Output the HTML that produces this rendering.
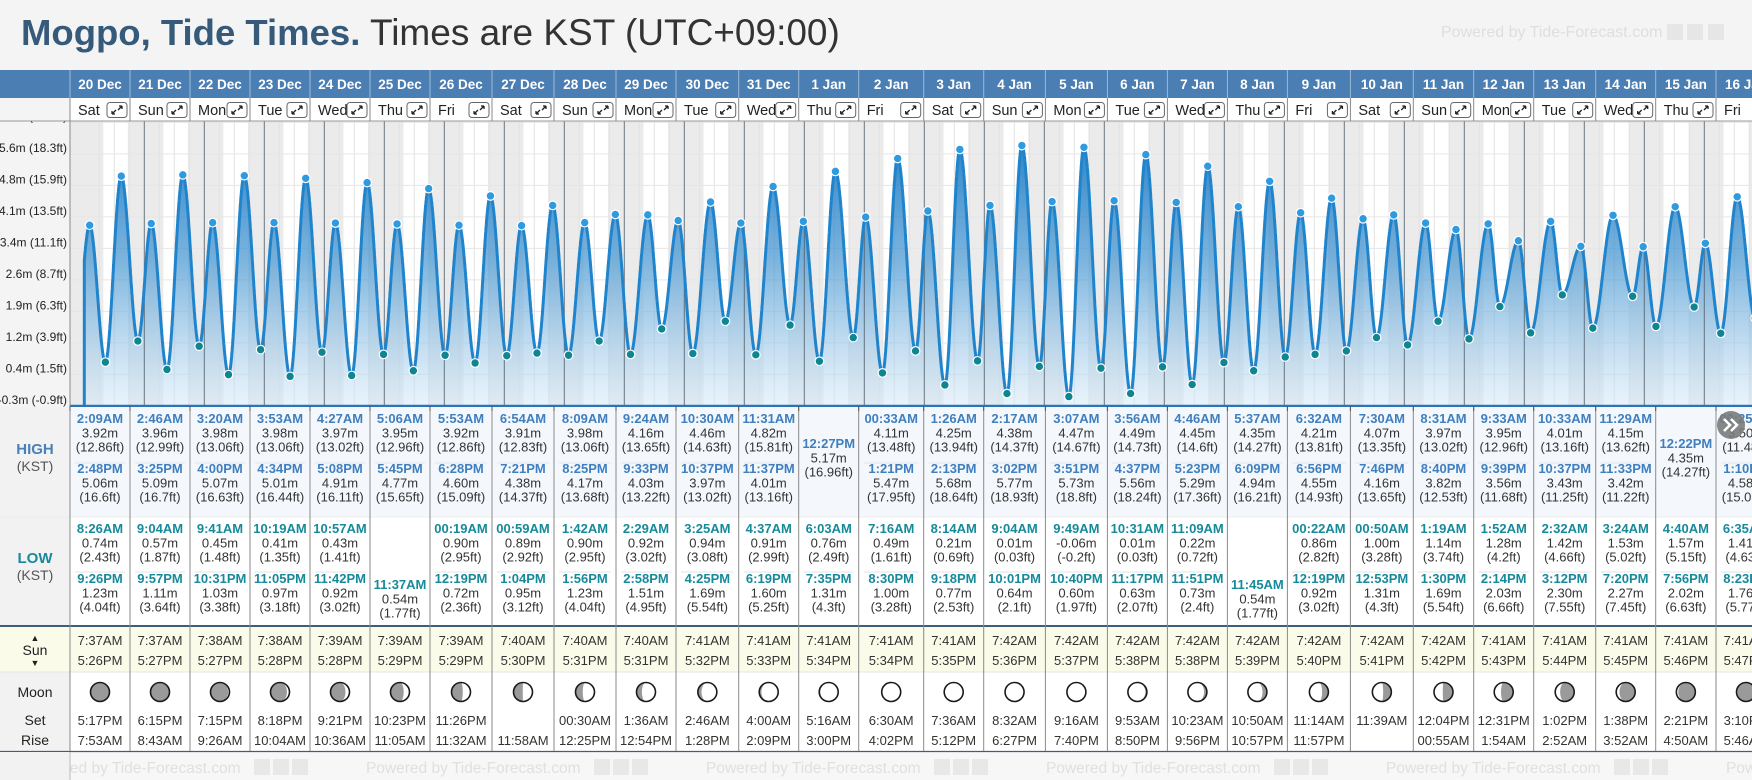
<!DOCTYPE html>
<html><head><meta charset="utf-8"><title>Mogpo Tide Times</title>
<style>
html,body{margin:0;padding:0;width:1752px;height:780px;overflow:hidden;background:#f4f4f4;font-family:"Liberation Sans",sans-serif;}
#title{position:absolute;left:21px;top:12px;font-size:37px;white-space:nowrap;color:#333;}
#title b{color:#355a7a;font-size:36.5px;}
#wm{position:absolute;left:1441px;top:24px;font-size:16px;color:#dedede;white-space:nowrap;}
svg{position:absolute;left:0;top:0;}
</style></head><body>
<div id="title"><b>Mogpo, Tide Times.</b> <span>Times are KST (UTC+09:00)</span></div>
<div id="wm">Powered by Tide-Forecast.com <span style="display:inline-block;width:16px;height:16px;background:#e6e6e6;vertical-align:-3px"></span> <span style="display:inline-block;width:16px;height:16px;background:#e6e6e6;vertical-align:-3px"></span> <span style="display:inline-block;width:16px;height:16px;background:#e6e6e6;vertical-align:-3px"></span></div>
<svg id="svg" width="1752" height="780" viewBox="0 0 1752 780"></svg>
<script>
const dates=['20 Dec','21 Dec','22 Dec','23 Dec','24 Dec','25 Dec','26 Dec','27 Dec','28 Dec','29 Dec','30 Dec','31 Dec','1 Jan','2 Jan','3 Jan','4 Jan','5 Jan','6 Jan','7 Jan','8 Jan','9 Jan','10 Jan','11 Jan','12 Jan','13 Jan','14 Jan','15 Jan','16 Jan'];
const weekdays=['Sat','Sun','Mon','Tue','Wed','Thu','Fri','Sat','Sun','Mon','Tue','Wed','Thu','Fri','Sat','Sun','Mon','Tue','Wed','Thu','Fri','Sat','Sun','Mon','Tue','Wed','Thu','Fri'];
const highTimes=[['2:09AM','2:48PM'],['2:46AM','3:25PM'],['3:20AM','4:00PM'],['3:53AM','4:34PM'],['4:27AM','5:08PM'],['5:06AM','5:45PM'],['5:53AM','6:28PM'],['6:54AM','7:21PM'],['8:09AM','8:25PM'],['9:24AM','9:33PM'],['10:30AM','10:37PM'],['11:31AM','11:37PM'],['12:27PM'],['00:33AM','1:21PM'],['1:26AM','2:13PM'],['2:17AM','3:02PM'],['3:07AM','3:51PM'],['3:56AM','4:37PM'],['4:46AM','5:23PM'],['5:37AM','6:09PM'],['6:32AM','6:56PM'],['7:30AM','7:46PM'],['8:31AM','8:40PM'],['9:33AM','9:39PM'],['10:33AM','10:37PM'],['11:29AM','11:33PM'],['12:22PM'],['00:25AM','1:10PM']];
const highM=[[3.92,5.06],[3.96,5.09],[3.98,5.07],[3.98,5.01],[3.97,4.91],[3.95,4.77],[3.92,4.60],[3.91,4.38],[3.98,4.17],[4.16,4.03],[4.46,3.97],[4.82,4.01],[5.17],[4.11,5.47],[4.25,5.68],[4.38,5.77],[4.47,5.73],[4.49,5.56],[4.45,5.29],[4.35,4.94],[4.21,4.55],[4.07,4.16],[3.97,3.82],[3.95,3.56],[4.01,3.43],[4.15,3.42],[4.35],[3.50,4.58]];
const lowTimes=[['8:26AM','9:26PM'],['9:04AM','9:57PM'],['9:41AM','10:31PM'],['10:19AM','11:05PM'],['10:57AM','11:42PM'],['11:37AM'],['00:19AM','12:19PM'],['00:59AM','1:04PM'],['1:42AM','1:56PM'],['2:29AM','2:58PM'],['3:25AM','4:25PM'],['4:37AM','6:19PM'],['6:03AM','7:35PM'],['7:16AM','8:30PM'],['8:14AM','9:18PM'],['9:04AM','10:01PM'],['9:49AM','10:40PM'],['10:31AM','11:17PM'],['11:09AM','11:51PM'],['11:45AM'],['00:22AM','12:19PM'],['00:50AM','12:53PM'],['1:19AM','1:30PM'],['1:52AM','2:14PM'],['2:32AM','3:12PM'],['3:24AM','7:20PM'],['4:40AM','7:56PM'],['6:35AM','8:23PM']];
const lowM=[[0.74,1.23],[0.57,1.11],[0.45,1.03],[0.41,0.97],[0.43,0.92],[0.54],[0.90,0.72],[0.89,0.95],[0.90,1.23],[0.92,1.51],[0.94,1.69],[0.91,1.60],[0.76,1.31],[0.49,1.00],[0.21,0.77],[0.01,0.64],[-0.06,0.60],[0.01,0.63],[0.22,0.73],[0.54],[0.86,0.92],[1.00,1.31],[1.14,1.69],[1.28,2.03],[1.42,2.30],[1.53,2.27],[1.57,2.02],[1.41,1.76]];
const priorLow={t:-3.5,m:1.3};
const sunrise=['7:37AM','7:37AM','7:38AM','7:38AM','7:39AM','7:39AM','7:39AM','7:40AM','7:40AM','7:40AM','7:41AM','7:41AM','7:41AM','7:41AM','7:41AM','7:42AM','7:42AM','7:42AM','7:42AM','7:42AM','7:42AM','7:42AM','7:42AM','7:41AM','7:41AM','7:41AM','7:41AM','7:41AM'];
const sunset=['5:26PM','5:27PM','5:27PM','5:28PM','5:28PM','5:29PM','5:29PM','5:30PM','5:31PM','5:31PM','5:32PM','5:33PM','5:34PM','5:34PM','5:35PM','5:36PM','5:37PM','5:38PM','5:38PM','5:39PM','5:40PM','5:41PM','5:42PM','5:43PM','5:44PM','5:45PM','5:46PM','5:47PM'];
const moonSet=['5:17PM','6:15PM','7:15PM','8:18PM','9:21PM','10:23PM','11:26PM','','00:30AM','1:36AM','2:46AM','4:00AM','5:16AM','6:30AM','7:36AM','8:32AM','9:16AM','9:53AM','10:23AM','10:50AM','11:14AM','11:39AM','12:04PM','12:31PM','1:02PM','1:38PM','2:21PM','3:10PM'];
const moonRise=['7:53AM','8:43AM','9:26AM','10:04AM','10:36AM','11:05AM','11:32AM','11:58AM','12:25PM','12:54PM','1:28PM','2:09PM','3:00PM','4:02PM','5:12PM','6:27PM','7:40PM','8:50PM','9:56PM','10:57PM','11:57PM','','00:55AM','1:54AM','2:52AM','3:52AM','4:50AM','5:46AM'];
const moonAge=[0.5,1.5,2.5,3.5,4.5,5.5,6.5,7.5,8.5,9.5,10.5,11.5,12.5,13.5,14.5,15.5,16.5,17.5,18.5,19.5,20.5,21.5,22.5,23.5,24.5,25.5,26.5,27.5];
const tickFt=[20.7,18.3,15.9,13.5,11.1,8.7,6.3,3.9,1.5,-0.9];
const tickLabels=['6.3m (20.7ft)','5.6m (18.3ft)','4.8m (15.9ft)','4.1m (13.5ft)','3.4m (11.1ft)','2.6m (8.7ft)','1.9m (6.3ft)','1.2m (3.9ft)','0.4m (1.5ft)','-0.3m (-0.9ft)'];

const colW=[60,60,60,60,60,60,62,62,62,60,62.7,60,60,65,60,61.7,62,60,60,60,63,62.9,60.4,60,62,60,60.3,60];
const colL=[];{let x=70;for(const w of colW){colL.push(x);x+=w;}}
const NS='http://www.w3.org/2000/svg';
const svg=document.getElementById('svg');
function mk(tag,at,parent){const e=document.createElementNS(NS,tag);for(const k in at)e.setAttribute(k,at[k]);(parent||svg).appendChild(e);return e;}
function txt(s,at,parent){const e=mk('text',at,parent);e.textContent=s;return e;}
function hrs(s){const m=s.match(/(\d+):(\d+)(AM|PM)/);let h=(+m[1])%12;if(m[3]==='PM')h+=12;return h+(+m[2])/60;}
function ft(m){return parseFloat((m*3.28084).toFixed(2));}
const x0=84.3,pxH=2.5;
function xOf(t){return x0+t*pxH;}
function yOf(m){return 394-43.06*m;}
const CT=121,CB=406;

const defs=mk('defs',{});
const cp=mk('clipPath',{id:'cclip'},defs);mk('rect',{x:70,y:CT,width:1682,height:CB-CT},cp);
const lg=mk('linearGradient',{id:'fillg',x1:0,y1:140,x2:0,y2:CB,gradientUnits:'userSpaceOnUse'},defs);
mk('stop',{offset:0,'stop-color':'#1f7cc6','stop-opacity':0.95},lg);
mk('stop',{offset:0.45,'stop-color':'#4f9bd3','stop-opacity':0.75},lg);
mk('stop',{offset:1,'stop-color':'#d8eaf8','stop-opacity':0.55},lg);

mk('rect',{x:0,y:CT,width:70,height:CB-CT,fill:'#f4f4f4'});
const cg=mk('g',{'clip-path':'url(#cclip)'});


mk('rect',{x:70,y:CT,width:1682,height:CB-CT,fill:'#ffffff'},cg);
{const r=mk('rect',{x:70,y:CT,width:xOf(hrs(sunrise[0]))-70,height:CB-CT,fill:'#ebebeb'},cg);

}
for(let i=0;i<dates.length;i++){
  const a=xOf(i*24+hrs(sunset[i]));const b=xOf((i+1)*24+(i+1<dates.length?hrs(sunrise[i+1]):7.7));
  const r=mk('rect',{x:a,y:CT,width:b-a,height:CB-CT,fill:'#ebebeb'},cg);
  
  
}
for(let t=6;t<dates.length*24+24;t+=6){ if(t%24===0)continue; mk('line',{x1:xOf(t),x2:xOf(t),y1:CT,y2:CB,stroke:'#e2e2e2','stroke-width':1},cg);}
for(let k=0;k<tickFt.length;k++){const y=yOf(tickFt[k]/3.28084);mk('line',{x1:70,x2:1752,y1:y,y2:y,stroke:'#e6e6e6','stroke-width':1},cg);}
const ev=[priorLow];
for(let i=0;i<dates.length;i++){
  highTimes[i].forEach((s,j)=>ev.push({t:i*24+hrs(s),m:highM[i][j],hi:true}));
  lowTimes[i].forEach((s,j)=>ev.push({t:i*24+hrs(s),m:lowM[i][j],hi:false}));
}
ev.sort((a,b)=>a.t-b.t);
function hAt(t){for(let k=0;k<ev.length-1;k++){if(t>=ev[k].t&&t<=ev[k+1].t){const f=(t-ev[k].t)/(ev[k+1].t-ev[k].t);return ev[k].m+(ev[k+1].m-ev[k].m)*(0.5-0.5*Math.cos(Math.PI*f));}}return ev[ev.length-1].m;}
const tEnd=ev[ev.length-1].t;
const pts=[];
for(let t=0;t<=tEnd;t+=0.1){pts.push([xOf(t),yOf(hAt(t))]);}
const lineD='M'+pts.map(p=>p[0].toFixed(1)+','+p[1].toFixed(1)).join(' L');
const area=mk('path',{d:'M'+xOf(0)+','+CB+' L'+pts.map(p=>p[0].toFixed(1)+','+p[1].toFixed(1)).join(' L')+' L'+pts[pts.length-1][0].toFixed(1)+','+CB+' Z',fill:'url(#fillg)'},cg);


for(let i=1;i<=dates.length;i++){mk('line',{x1:xOf(i*24),x2:xOf(i*24),y1:CT,y2:CB,stroke:'#52616f','stroke-width':1,'stroke-opacity':0.85},cg);}
const ln=mk('path',{d:'M'+xOf(0)+','+CB+' L'+lineD.slice(1),fill:'none',stroke:'#2084cc','stroke-width':3,'stroke-linejoin':'round'},cg);


for(const e of ev){ if(e===priorLow)continue;
  const c=mk('circle',{cx:xOf(e.t),cy:yOf(e.m),r:4.3,fill:e.hi?'#2e9ae0':'#0f8592',stroke:'#ffffff','stroke-width':1.2},cg);
  
  
}
mk('line',{x1:70,x2:1752,y1:CB,y2:CB,stroke:'#2b74b8','stroke-width':2.5});
mk('line',{x1:70,x2:70,y1:CT,y2:CB,stroke:'#8a8a8a','stroke-width':1});
for(let k=0;k<tickFt.length;k++){
  const y=yOf(tickFt[k]/3.28084)-2;
  const t=txt(tickLabels[k],{x:67,y:y,'text-anchor':'end','font-size':12,fill:'#222'});
  
  
}
mk('rect',{x:0,y:70,width:1752,height:28,fill:'#4b7eb2'});
mk('rect',{x:0,y:98,width:1752,height:23,fill:'#ffffff'});
mk('rect',{x:0,y:98,width:70,height:23,fill:'#f4f4f4'});
mk('line',{x1:0,x2:1752,y1:121,y2:121,stroke:'#999','stroke-width':1});
for(let i=0;i<dates.length;i++){
  const L=colL[i],w=colW[i];
  mk('line',{x1:L,x2:L,y1:70,y2:98,stroke:'#9dbad6','stroke-width':1});
  mk('line',{x1:L,x2:L,y1:98,y2:121,stroke:'#888','stroke-width':1});
  const dt=txt(dates[i],{x:L+w/2,y:89,'text-anchor':'middle','font-size':13.5,'font-weight':'bold',fill:'#fff'});
  
  
  const wd=txt(weekdays[i],{x:L+8,y:115,'font-size':14.5,fill:'#222'});
  
  
  const g=mk('g',{});
  
  
  const bx=L+w-23;
  mk('rect',{x:bx,y:102.5,width:20,height:15,rx:3,fill:'#fff',stroke:'#666','stroke-width':1},g);
  mk('path',{d:`M${bx+5},${114} L${bx+9},${110} M${bx+5},${114} l0,-3 M${bx+5},${114} l3,0 M${bx+15},${106} L${bx+11},${110} M${bx+15},${106} l0,3 M${bx+15},${106} l-3,0`,stroke:'#222','stroke-width':1.3,fill:'none'},g);
}
mk('rect',{x:0,y:407,width:70,height:373,fill:'#f2f2f2'});
mk('rect',{x:70,y:407,width:1682,height:110,fill:'#f4f8fc'});
mk('rect',{x:70,y:517,width:1682,height:109,fill:'#ffffff'});
mk('rect',{x:0,y:627,width:1752,height:45,fill:'#fbfbe9'});
mk('rect',{x:70,y:672,width:1682,height:79,fill:'#ffffff'});
mk('rect',{x:70,y:752,width:1682,height:28,fill:'#f7f7f7'});
mk('line',{x1:0,x2:1752,y1:517,y2:517,stroke:'#ececec'});
mk('line',{x1:0,x2:1752,y1:672,y2:672,stroke:'#e6e6e6'});
mk('line',{x1:0,x2:1752,y1:626,y2:626,stroke:'#3f5d7c','stroke-width':2});
mk('line',{x1:0,x2:1752,y1:751.5,y2:751.5,stroke:'#3f5d7c','stroke-width':1.2});
[[454,'HIGH',true,'#4a80b8'],[471,'(KST)',false,'#555'],[563,'LOW',true,'#168a9b'],[580,'(KST)',false,'#555']].forEach(a=>{
  const t=txt(a[1],{x:35,y:a[0],'text-anchor':'middle','font-size':a[2]?15:14,'font-weight':a[2]?'bold':'normal',fill:a[3]});
  
  
});
txt('▲',{x:35,y:641,'text-anchor':'middle','font-size':9,fill:'#222'});
{const t=txt('Sun',{x:35,y:655,'text-anchor':'middle','font-size':14,fill:'#222'});

}
txt('▼',{x:35,y:666,'text-anchor':'middle','font-size':9,fill:'#222'});
{const t=txt('Moon',{x:35,y:697,'text-anchor':'middle','font-size':14,fill:'#222'});

}
txt('Set',{x:35,y:725,'text-anchor':'middle','font-size':14,fill:'#222'});
txt('Rise',{x:35,y:745,'text-anchor':'middle','font-size':14,fill:'#222'});

function entry(cx,y,time,m,col,name){
  const g=mk('g',{});
  
  
  txt(time,{x:cx,y:y+5,'text-anchor':'middle','font-size':13,'font-weight':'bold',fill:col},g);
  txt(m.toFixed(2)+'m',{x:cx,y:y+19.5,'text-anchor':'middle','font-size':13,fill:'#333'},g);
  txt('('+ft(m)+'ft)',{x:cx,y:y+33.5,'text-anchor':'middle','font-size':13,fill:'#333'},g);
}
function moon(cx,cy,age){
  const r=9.5,g=mk('g',{});
  
  
  mk('circle',{cx,cy,r,fill:'#9a9a9a'},g);
  const k=Math.cos(2*Math.PI*age/29.53),rx=Math.abs(k)*r,wax=age<14.765;
  let p;
  if(wax) p=`M${cx},${cy-r} A${r},${r} 0 0 1 ${cx},${cy+r} A${rx},${r} 0 0 ${k>0?0:1} ${cx},${cy-r}Z`;
  else p=`M${cx},${cy-r} A${r},${r} 0 0 0 ${cx},${cy+r} A${rx},${r} 0 0 ${k>0?1:0} ${cx},${cy-r}Z`;
  mk('path',{d:p,fill:'#fff'},g);
  mk('circle',{cx,cy,r,fill:'none',stroke:'#1a1a1a','stroke-width':1.6},g);
}
for(let i=0;i<dates.length;i++){
  const L=colL[i],w=colW[i],cx=L+w/2;
  mk('line',{x1:L,x2:L,y1:407,y2:751,stroke:'#8a8a8a','stroke-width':1});
  if(highTimes[i].length===2){
    entry(cx,418,highTimes[i][0],highM[i][0],'#3f7fbf','high-tide-entry');
    mk('line',{x1:L+5,x2:L+w-5,y1:463,y2:463,stroke:'#e3e3e3'});
    entry(cx,468,highTimes[i][1],highM[i][1],'#3f7fbf','high-tide-entry');
  } else entry(cx,443,highTimes[i][0],highM[i][0],'#3f7fbf','high-tide-entry');
  if(lowTimes[i].length===2){
    entry(cx,528,lowTimes[i][0],lowM[i][0],'#168a9b','low-tide-entry');
    mk('line',{x1:L+5,x2:L+w-5,y1:572,y2:572,stroke:'#e3e3e3'});
    entry(cx,578,lowTimes[i][1],lowM[i][1],'#168a9b','low-tide-entry');
  } else entry(cx,584,lowTimes[i][0],lowM[i][0],'#168a9b','low-tide-entry');
  const sr=txt(sunrise[i],{x:cx,y:645,'text-anchor':'middle','font-size':13,fill:'#333'});
  
  
  const ss=txt(sunset[i],{x:cx,y:665,'text-anchor':'middle','font-size':13,fill:'#333'});
  
  
  moon(cx,692,moonAge[i]);
  const ms=txt(moonSet[i],{x:cx,y:725,'text-anchor':'middle','font-size':13,fill:'#333'});
  
  
  const mr=txt(moonRise[i],{x:cx,y:745,'text-anchor':'middle','font-size':13,fill:'#333'});
  
  
  mk('line',{x1:L,x2:L,y1:406,y2:411,stroke:'#555'});
}
for(const fx of [26,366,706,1046,1386,1726]){
  const t=txt('Powered by Tide-Forecast.com',{x:fx,y:773,'font-size':15.5,fill:'#e0e0e0'});
  
  
  for(let q=0;q<3;q++) mk('rect',{x:fx+228+q*19,y:759,width:16,height:16,fill:'#e8e8e8'});
}
mk('rect',{x:0,y:752,width:70,height:28,fill:'#f2f2f2'});
mk('line',{x1:70,x2:70,y1:752,y2:780,stroke:'#bbb'});
{const g=mk('g',{});


mk('circle',{cx:1731,cy:425,r:14,fill:'#7a7a7a','fill-opacity':0.9},g);
mk('path',{d:'M1724,419 l6,6 l-6,6 M1731,419 l6,6 l-6,6',stroke:'#fff','stroke-width':2.5,fill:'none'},g);}
</script>
</body></html>
